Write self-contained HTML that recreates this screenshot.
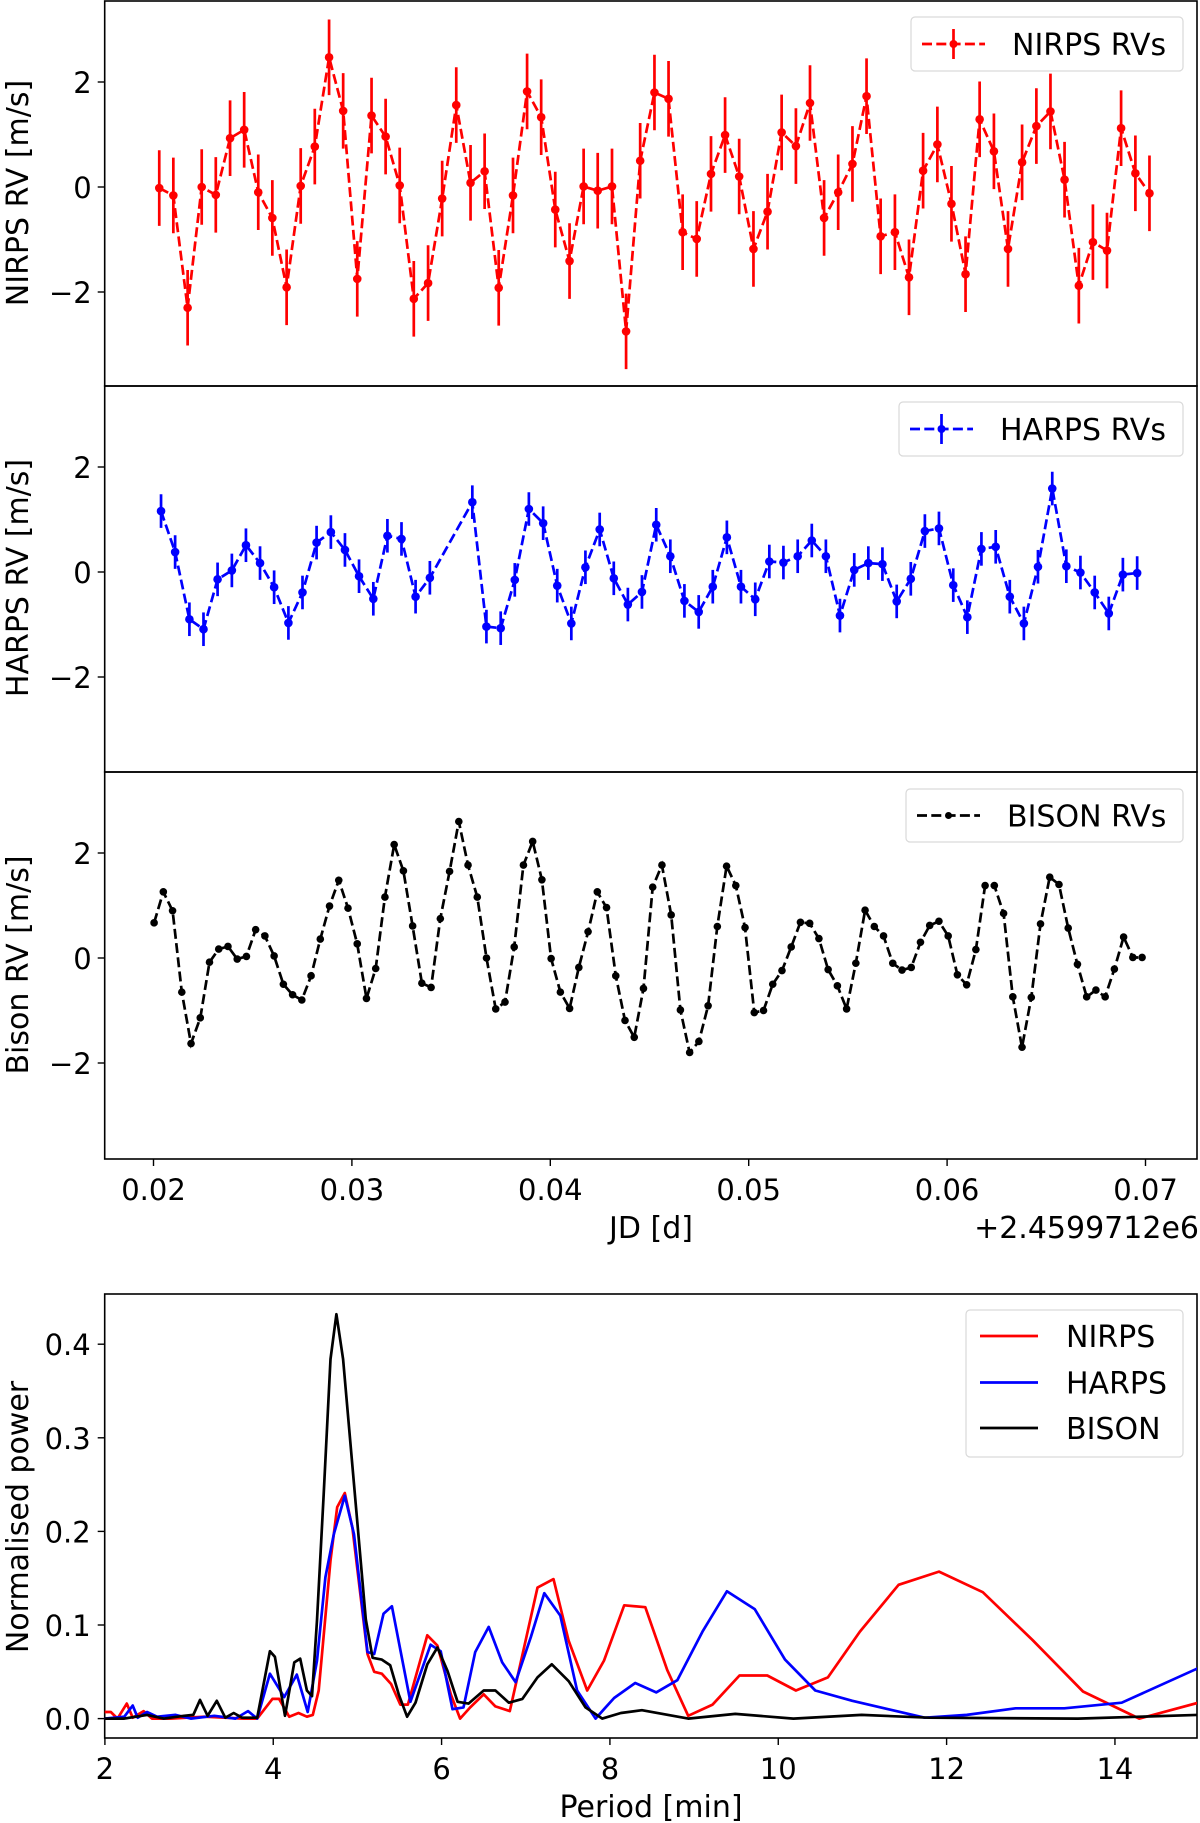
<!DOCTYPE html>
<html><head><meta charset="utf-8"><style>
html,body{margin:0;padding:0;background:#fff;}
svg{display:block;font-family:"DejaVu Sans","Liberation Sans",sans-serif;}
</style></head><body>
<svg id="fig" xmlns="http://www.w3.org/2000/svg" width="1200" height="1823" viewBox="0 0 1200 1823">
<defs>
<clipPath id="c0"><rect x="104.7" y="1" width="1092.3" height="385"/></clipPath>
<clipPath id="c1"><rect x="104.7" y="386" width="1092.3" height="386"/></clipPath>
<clipPath id="c2"><rect x="104.7" y="772" width="1092.3" height="387"/></clipPath>
<clipPath id="c3"><rect x="104.7" y="1294" width="1092.3" height="444"/></clipPath>
</defs>
<rect x="0" y="0" width="1200" height="1823" fill="#fff"/>
</svg>
<script>
// ---------------- data ----------------
const nirpsTimes=[.02029,.02100,.02172,.02243,.02314,.02386,.02457,.02528,.02599,.02671,.02742,.02813,.02885,.02956,.03027,.03099,.03170,.03241,.03312,.03384,.03455,.03526,.03598,.03669,.03740,.03812,.03883,.03954,.04025,.04097,.04168,.04239,.04311,.04382,.04453,.04525,.04596,.04667,.04738,.04810,.04881,.04952,.05024,.05095,.05166,.05238,.05309,.05380,.05451,.05523,.05594,.05665,.05737,.05808,.05879,.05951,.06022,.06093,.06164,.06236,.06307,.06378,.06450,.06521,.06592,.06664,.06735,.06806,.06877,.06949,.07020];
const nirpsRV=[-0.02,-0.16,-2.3,0.0,-0.15,0.93,1.09,-0.1,-0.59,-1.91,0.02,0.77,2.47,1.45,-1.75,1.36,0.96,0.03,-2.13,-1.83,-0.22,1.56,0.08,0.30,-1.92,-0.16,1.82,1.33,-0.43,-1.41,0.01,-0.07,0.01,-2.75,0.5,1.80,1.68,-0.86,-0.99,0.25,0.99,0.2,-1.18,-0.47,1.04,0.78,1.60,-0.59,-0.1,0.44,1.73,-0.94,-0.86,-1.72,0.31,0.81,-0.32,-1.66,1.29,0.68,-1.18,0.47,1.16,1.44,0.14,-1.88,-1.05,-1.21,1.12,0.26,-0.12];
const nirpsErr=0.72;
const harpsTimes=[.02038,.02109,.02181,.02252,.02323,.02395,.02466,.02537,.02608,.02680,.02751,.02822,.02894,.02965,.03036,.03108,.03179,.03250,.03321,.03393,.03607,.03678,.03750,.03821,.03892,.03964,.04035,.04106,.04177,.04249,.04320,.04391,.04462,.04534,.04605,.04676,.04748,.04819,.04890,.04961,.05033,.05104,.05175,.05247,.05318,.05389,.05460,.05532,.05603,.05674,.05746,.05817,.05888,.05959,.06031,.06102,.06173,.06245,.06316,.06387,.06458,.06530,.06601,.06672,.06744,.06815,.06886,.06958];
const harpsRV=[1.16,0.38,-0.9,-1.09,-0.14,0.03,0.51,0.17,-0.29,-0.97,-0.39,0.56,0.76,0.42,-0.08,-0.51,0.69,0.63,-0.47,-0.11,1.33,-1.04,-1.07,-0.15,1.2,0.93,-0.26,-0.98,0.09,0.81,-0.12,-0.62,-0.38,0.9,0.3,-0.55,-0.76,-0.28,0.66,-0.28,-0.52,0.2,0.18,0.3,0.6,0.3,-0.83,0.04,0.17,0.15,-0.56,-0.13,0.78,0.83,-0.25,-0.86,0.44,0.48,-0.47,-0.98,0.1,1.59,0.11,-0.01,-0.39,-0.79,-0.05,-0.02];
const harpsErr=0.32;
const bisonStart=0.02003;
const bisonCadence=0.0004654;
const bisonRV=[0.67,1.26,0.9,-0.65,-1.63,-1.14,-0.08,0.17,0.22,-0.02,0.03,0.54,0.42,0.04,-0.5,-0.7,-0.8,-0.34,0.36,0.99,1.48,0.95,0.27,-0.77,-0.2,1.16,2.16,1.66,0.61,-0.48,-0.56,0.75,1.65,2.6,1.77,1.16,0.0,-0.97,-0.84,0.21,1.77,2.22,1.49,-0.01,-0.65,-0.96,-0.18,0.5,1.26,0.96,-0.34,-1.19,-1.51,-0.58,1.35,1.77,0.82,-0.99,-1.8,-1.59,-0.91,0.6,1.75,1.38,0.58,-1.04,-1.0,-0.5,-0.24,0.21,0.68,0.66,0.37,-0.22,-0.53,-0.97,-0.1,0.91,0.6,0.42,-0.1,-0.23,-0.18,0.3,0.62,0.7,0.42,-0.32,-0.51,0.16,1.38,1.38,0.85,-0.74,-1.7,-0.75,0.65,1.54,1.4,0.57,-0.12,-0.74,-0.61,-0.74,-0.21,0.4,0.01,0.01];
const jdTicks=[0.02,0.03,0.04,0.05,0.06,0.07];
const jdTickLabels=["0.02","0.03","0.04","0.05","0.06","0.07"];
const rvTicks=[-2,0,2];
const rvTickLabels=["\u22122","0","2"];

const nirpsPeriod=[1.99,2.07,2.15,2.26,2.33,2.46,2.56,2.78,3.18,3.65,3.81,3.99,4.07,4.19,4.30,4.40,4.47,4.54,4.68,4.76,4.85,4.94,5.12,5.20,5.29,5.40,5.51,5.60,5.83,5.95,6.11,6.22,6.34,6.50,6.64,6.81,7.14,7.33,7.51,7.73,7.93,8.17,8.42,8.68,8.93,9.22,9.54,9.87,10.21,10.59,10.97,11.43,11.91,12.43,13.02,13.62,14.29,14.99];
const nirpsPower=[.007,.007,0,.016,.001,.008,0,0,.002,0,0,.021,.021,.002,.006,.002,.004,.03,.169,.226,.241,.204,.069,.05,.048,.037,.015,.015,.089,.078,.026,0,.012,.026,.013,.008,.14,.149,.083,.03,.062,.121,.119,.052,.003,.015,.046,.046,.03,.044,.093,.143,.157,.135,.084,.029,0,.017];
const harpsPeriod=[1.99,2.23,2.33,2.39,2.50,2.62,2.84,3.02,3.30,3.55,3.70,3.81,3.96,4.13,4.28,4.41,4.52,4.62,4.72,4.85,4.96,5.12,5.20,5.31,5.41,5.63,5.87,5.99,6.13,6.26,6.40,6.56,6.72,6.88,7.06,7.22,7.41,7.61,7.83,7.93,8.05,8.30,8.55,8.80,9.10,9.39,9.72,10.08,10.44,10.88,11.74,12.24,12.82,13.40,14.08,14.99];
const harpsPower=[0,.002,.014,.001,.007,.002,.004,0,.003,0,.008,0,.048,.023,.047,.007,.062,.151,.197,.238,.197,.071,.069,.112,.12,.018,.079,.072,.01,.012,.071,.098,.06,.039,.087,.134,.11,.03,0,.01,.022,.038,.028,.041,.093,.136,.117,.063,.03,.019,.001,.004,.011,.011,.017,.054];
const bisonPeriod=[1.99,2.23,2.50,2.70,2.94,3.05,3.13,3.22,3.33,3.43,3.53,3.63,3.81,3.96,4.02,4.14,4.25,4.32,4.40,4.46,4.52,4.60,4.68,4.75,4.83,4.94,5.10,5.18,5.29,5.39,5.49,5.59,5.69,5.83,5.95,6.07,6.19,6.32,6.50,6.64,6.80,6.96,7.14,7.31,7.51,7.71,7.91,8.13,8.38,8.93,9.49,10.18,10.99,11.79,13.56,14.99];
const bisonPower=[0,0,.004,0,.003,.004,.02,.003,.019,.001,.006,.001,.001,.072,.066,.003,.06,.064,.03,.024,.105,.24,.384,.432,.384,.27,.106,.065,.063,.057,.026,.002,.017,.058,.076,.051,.018,.016,.03,.03,.017,.021,.044,.058,.04,.012,0,.006,.009,0,.005,0,.004,.001,0,.004];
const periodTicks=[2,4,6,8,10,12,14];
const powerTicks=[0,0.1,0.2,0.3,0.4];
const powerTickLabels=["0.0","0.1","0.2","0.3","0.4"];

// ---------------- drawing ----------------
const NS="http://www.w3.org/2000/svg";
const svg=document.getElementById('fig');
function mk(tag,attrs,parent){const e=document.createElementNS(NS,tag);for(const k in attrs)e.setAttribute(k,attrs[k]);(parent||svg).appendChild(e);return e;}
const L=104.7,R=1197;
function xJD(t){return 153.5+(t-0.02)*19840;}
function yRV(top,v){return top+186-v*52.5;}
function xP(p){return 104.9+(p-2)*84.17;}
function yPow(p){return 1718.6-p*936;}
const panelTops=[1,386,772];
const panelH=[385,386,387];

function panelFrame(i,name){
  const top=panelTops[i];
  const r=mk('rect',{x:L,y:top,width:R-L,height:panelH[i],fill:'none',stroke:'#000','stroke-width':1.6});
  
  
  rvTicks.forEach((v,j)=>{
    const y=yRV(top,v);
    const tk=mk('line',{x1:L-7,x2:L,y1:y,y2:y,stroke:'#000','stroke-width':1.4});
    
    
    const tl=mk('text',{x:L-13,y:y+11,'font-size':29,'text-anchor':'end'});
    tl.textContent=rvTickLabels[j];
    
    
  });
}
function ylabel(text,cx,cy,name){
  const t=mk('text',{x:cx,y:cy,'font-size':30,'text-anchor':'middle',transform:`rotate(-90 ${cx} ${cy})`});
  t.textContent=text;
  
  
}
function series(times,vals,top,color,err,rad,name,clip){
  const g=mk('g',{'clip-path':`url(#${clip})`});
  
  
  const pts=times.map((t,i)=>xJD(t).toFixed(1)+','+yRV(top,vals[i]).toFixed(1)).join(' ');
  mk('polyline',{points:pts,fill:'none',stroke:color,'stroke-width':2.7,'stroke-dasharray':'10 4.3'},g);
  times.forEach((t,i)=>{
    const x=xJD(t),y=yRV(top,vals[i]);
    if(err>0){
      const eb=mk('line',{x1:x,x2:x,y1:yRV(top,vals[i]+err),y2:yRV(top,vals[i]-err),stroke:color,'stroke-width':2.7},g);
      
      
    }
    const c=mk('circle',{cx:x,cy:y,r:rad,fill:color},g);
    
    
  });
}
function legend(x,y,w,h,color,label,err,name){
  const g=mk('g',{});
  
  
  mk('rect',{x:x,y:y,width:w,height:h,rx:4,fill:'#fff','fill-opacity':0.8,stroke:'#d9d9d9','stroke-width':1.2},g);
  const cy=y+h/2;
  mk('line',{x1:x+11,x2:x+74,y1:cy,y2:cy,stroke:color,'stroke-width':2.7,'stroke-dasharray':'10 4.3'},g);
  if(err)mk('line',{x1:x+42.5,x2:x+42.5,y1:cy-15,y2:cy+15,stroke:color,'stroke-width':2.7},g);
  mk('circle',{cx:x+42.5,cy:cy,r:err?4:3.5,fill:color},g);
  const t=mk('text',{x:x+101,y:cy+11,'font-size':30,fill:'#000'},g);
  t.textContent=label;
}

panelFrame(0,'nirps-panel');
panelFrame(1,'harps-panel');
panelFrame(2,'bison-panel');
series(nirpsTimes,nirpsRV,panelTops[0],'#ff0000',nirpsErr,4.3,'nirps-series','c0');
series(harpsTimes,harpsRV,panelTops[1],'#0000ff',harpsErr,4.3,'harps-series','c1');
const bisonTimes=bisonRV.map((v,i)=>bisonStart+i*bisonCadence);
series(bisonTimes,bisonRV,panelTops[2],'#000000',0,3.8,'bison-series','c2');
legend(911,17,272,54,'#ff0000','NIRPS RVs',true,'nirps-legend');
legend(899,402,284,54,'#0000ff','HARPS RVs',true,'harps-legend');
legend(906,789,277,53,'#000000','BISON RVs',false,'bison-legend');
ylabel('NIRPS RV [m/s]',28,193,'nirps-y-axis-title');
ylabel('HARPS RV [m/s]',28,578,'harps-y-axis-title');
ylabel('Bison RV [m/s]',28,965,'bison-y-axis-title');

// JD x axis
jdTicks.forEach((t,i)=>{
  const x=xJD(t);
  const tk=mk('line',{x1:x,x2:x,y1:1159,y2:1166,stroke:'#000','stroke-width':1.4});
  
  
  const tl=mk('text',{x:x,y:1200,'font-size':29,'text-anchor':'middle'});
  tl.textContent=jdTickLabels[i];
  
  
});
let t1=mk('text',{x:651,y:1238,'font-size':30,'text-anchor':'middle'});t1.textContent='JD [d]';


let t2=mk('text',{x:1199,y:1238,'font-size':30,'text-anchor':'end'});t2.textContent='+2.4599712e6';



// periodogram
const pf=mk('rect',{x:L,y:1294,width:R-L,height:444,fill:'none',stroke:'#000','stroke-width':1.6});


powerTicks.forEach((p,i)=>{
  const y=yPow(p);
  const tk=mk('line',{x1:L-7,x2:L,y1:y,y2:y,stroke:'#000','stroke-width':1.4});
  
  
  const tl=mk('text',{x:L-14,y:y+11,'font-size':29,'text-anchor':'end'});
  tl.textContent=powerTickLabels[i];
  
  
});
periodTicks.forEach(p=>{
  const x=xP(p);
  const tk=mk('line',{x1:x,x2:x,y1:1738,y2:1745,stroke:'#000','stroke-width':1.4});
  
  
  const tl=mk('text',{x:x,y:1779,'font-size':29,'text-anchor':'middle'});
  tl.textContent=String(p);
  
  
});
function pline(per,pow,color,name){
  const pts=per.map((p,i)=>xP(p).toFixed(1)+','+yPow(pow[i]).toFixed(1)).join(' ');
  const pl=mk('polyline',{points:pts,fill:'none',stroke:color,'stroke-width':2.7,'stroke-linejoin':'round','clip-path':'url(#c3)'});
  
  
}
pline(nirpsPeriod,nirpsPower,'#ff0000','nirps-periodogram');
pline(harpsPeriod,harpsPower,'#0000ff','harps-periodogram');
pline(bisonPeriod,bisonPower,'#000000','bison-periodogram');
const lg=mk('g',{});


mk('rect',{x:966,y:1310,width:217,height:147,rx:4,fill:'#fff','fill-opacity':0.8,stroke:'#d9d9d9','stroke-width':1.2},lg);
[['NIRPS','#ff0000',1336],['HARPS','#0000ff',1382.5],['BISON','#000000',1428]].forEach(([lab,col,y])=>{
  mk('line',{x1:980,x2:1038,y1:y,y2:y,stroke:col,'stroke-width':2.7},lg);
  const t=mk('text',{x:1066,y:y+11,'font-size':30},lg);t.textContent=lab;
});
ylabel('Normalised power',28,1517,'power-y-axis-title');
let t3=mk('text',{x:651,y:1817,'font-size':30,'text-anchor':'middle'});t3.textContent='Period [min]';


</script>
</body></html>
